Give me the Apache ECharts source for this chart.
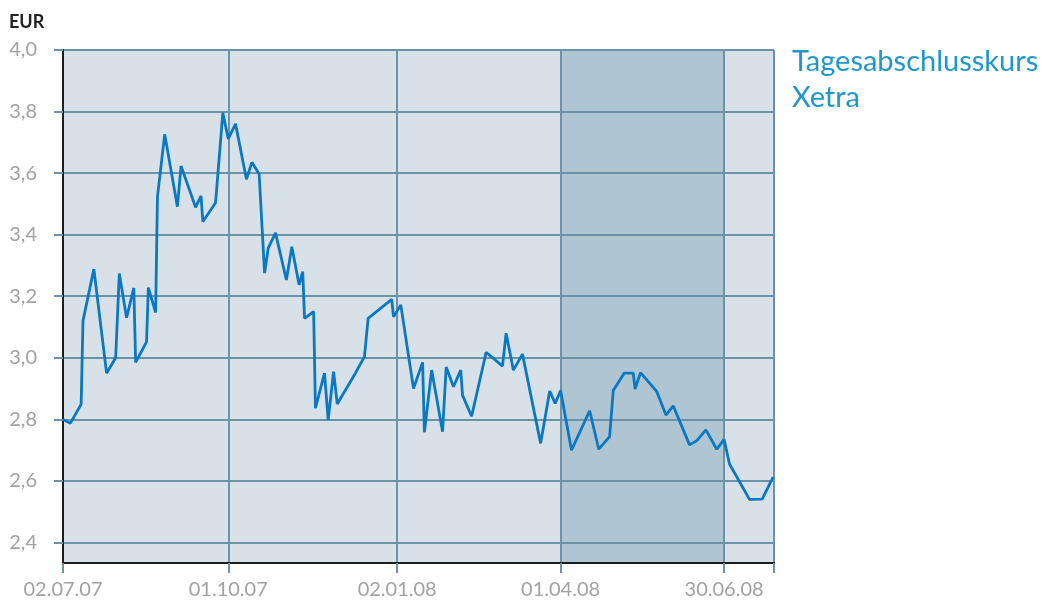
<!DOCTYPE html>
<html>
<head>
<meta charset="utf-8">
<script src="https://cdn.jsdelivr.net/npm/echarts@6/dist/echarts.min.js"></script>
<style>
html,body{margin:0;padding:0;background:#fff;}
#chart{width:1046px;height:603px;}
</style>
</head>
<body>
<div id="chart"></div>
<script>
const dates = [
'2007-07-02','2007-07-06','2007-07-12','2007-07-13','2007-07-19','2007-07-26','2007-07-31','2007-08-02','2007-08-06','2007-08-10',
'2007-08-11','2007-08-17','2007-08-18','2007-08-22','2007-08-23','2007-08-27','2007-09-03','2007-09-05','2007-09-13','2007-09-16',
'2007-09-17','2007-09-24','2007-09-28','2007-10-01','2007-10-05','2007-10-11','2007-10-14','2007-10-18','2007-10-21','2007-10-23',
'2007-10-27','2007-11-02','2007-11-05','2007-11-09','2007-11-11','2007-11-12','2007-11-17','2007-11-18','2007-11-23','2007-11-25',
'2007-11-28','2007-11-30','2007-12-10','2007-12-15','2007-12-17','2007-12-30','2007-12-31','2008-01-04','2008-01-11','2008-01-16',
'2008-01-17','2008-01-21','2008-01-27','2008-01-29','2008-02-02','2008-02-06','2008-02-07','2008-02-12','2008-02-20','2008-02-29',
'2008-03-02','2008-03-06','2008-03-11','2008-03-21','2008-03-26','2008-03-29','2008-04-01','2008-04-07','2008-04-17','2008-04-22',
'2008-04-28','2008-04-30','2008-05-06','2008-05-11','2008-05-12','2008-05-15','2008-05-24','2008-05-29','2008-06-02','2008-06-11',
'2008-06-15','2008-06-20','2008-06-26','2008-06-30','2008-07-03','2008-07-14','2008-07-21','2008-07-27'
];
const prices = [
2.80,2.787,2.849,3.12,3.288,2.95,3.00,3.274,3.13,3.227,
2.985,3.052,3.228,3.147,3.523,3.726,3.491,3.623,3.489,3.526,
3.442,3.504,3.796,3.711,3.76,3.58,3.635,3.597,3.275,3.356,
3.406,3.253,3.361,3.237,3.28,3.128,3.15,2.836,2.95,2.798,
2.955,2.85,2.95,3.004,3.128,3.19,3.133,3.172,2.90,2.985,
2.758,2.96,2.76,2.97,2.906,2.96,2.878,2.81,3.018,2.973,
3.08,2.96,3.012,2.722,2.892,2.852,2.894,2.70,2.828,2.703,
2.744,2.894,2.95,2.95,2.898,2.952,2.89,2.814,2.844,2.717,
2.731,2.766,2.703,2.735,2.655,2.54,2.541,2.612
];
const xTickDates = ['2007-07-02','2007-10-01','2008-01-02','2008-04-01','2008-06-30'];
const yTicks = [2.4,2.6,2.8,3.0,3.2,3.4,3.6,3.8,4.0];
const highlightRange = ['2008-04-01','2008-06-30'];
const seriesName = 'Tagesabschlusskurs Xetra';
const unitLabel = 'EUR';

function toTs(s){ const p = s.split('-'); return new Date(+p[0], +p[1]-1, +p[2]).getTime(); }
const xMin = toTs('2007-07-02');
const xMax = toTs('2008-07-27') + 12*3600*1000;
const data = dates.map((d,i)=>[toTs(d), prices[i]]);
const gridColor = '#6b93a8';
const axisBlack = '#1c1c1c';
const labelGrey = '#a2a2a2';
const font = 'Lato';

function fmtDate(v){
  const d = new Date(v);
  const dd = String(d.getDate()).padStart(2,'0');
  const mm = String(d.getMonth()+1).padStart(2,'0');
  const yy = String(d.getFullYear()).slice(2);
  return dd+'.'+mm+'.'+yy;
}

const chart = echarts.init(document.getElementById('chart'));
chart.setOption({
  animation: false,
  title: { text: unitLabel, left: 4, top: 8, textStyle: { fontFamily: font, fontSize: 18, fontWeight: 'bold', color: '#222' } },
  legend: {
    data: [seriesName], left: 782, top: 39, icon: 'none', itemWidth: 0, itemHeight: 72,
    formatter: n => n.replace(' ', '\n'),
    textStyle: { fontFamily: font, fontSize: 29, lineHeight: 36, color: '#1f97cd' }
  },
  grid: { left: 63, right: 272, top: 50, bottom: 40, show: true, backgroundColor: '#d9e1e8', borderWidth: 0, z: -2 },
  xAxis: {
    type: 'value', min: xMin, max: xMax,
    axisLine: { show: true, lineStyle: { color: axisBlack, width: 2 } },
    axisTick: { show: true, customValues: xTickDates.map(toTs).concat([xMax]), length: 10, lineStyle: { color: gridColor, width: 2 } },
    axisLabel: { customValues: xTickDates.map(toTs), formatter: v => fmtDate(v), margin: 17, fontFamily: font, fontSize: 20, color: labelGrey, showMinLabel: true, showMaxLabel: true, hideOverlap: false },
    splitLine: { show: true, lineStyle: { color: gridColor, width: 2 } }
  },
  yAxis: {
    type: 'value', min: 2.3333, max: 4.0,
    axisLine: { show: true, lineStyle: { color: axisBlack, width: 2 } },
    axisTick: { show: true, customValues: yTicks, length: 9, lineStyle: { color: gridColor, width: 2 } },
    axisLabel: { customValues: yTicks, formatter: v => v.toFixed(1).replace('.', ','), margin: 26, fontFamily: font, fontSize: 20, color: labelGrey },
    splitLine: { show: true, lineStyle: { color: gridColor, width: 2 } }
  },
  series: [
    {
      name: 'highlight', type: 'line', z: -1, data: data, showSymbol: false, silent: true,
      lineStyle: { opacity: 0 },
      markArea: { z: -1, silent: true, itemStyle: { color: '#afc5d2' }, data: [[{ xAxis: toTs(highlightRange[0]) }, { xAxis: toTs(highlightRange[1]) }]] }
    },
    {
      name: seriesName, type: 'line', z: 3, data: data, showSymbol: false,
      lineStyle: { color: '#0a78c2', width: 2.8 }, itemStyle: { color: '#0a78c2' }
    }
  ]
});
</script>
</body>
</html>
